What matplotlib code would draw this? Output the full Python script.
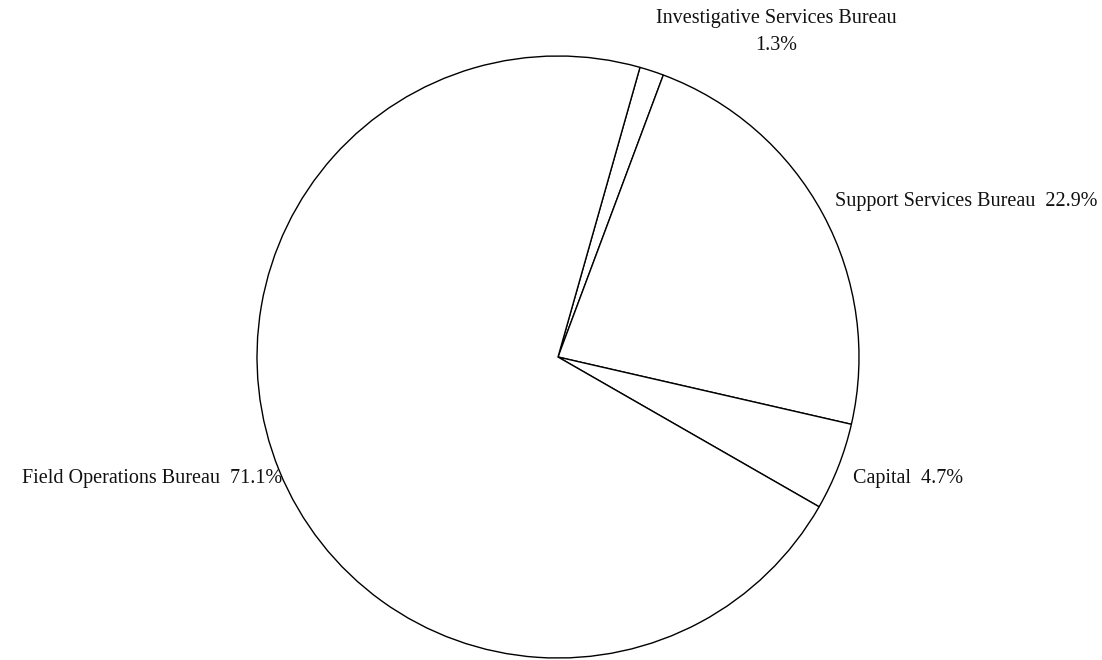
import matplotlib.pyplot as plt

labels = ['Investigative Services Bureau', 'Support Services Bureau', 'Capital', 'Field Operations Bureau']
shares = [1.3, 22.9, 4.7, 71.1]
pct_text = ['1.3%', '22.9%', '4.7%', '71.1%']

plt.rcParams['font.family'] = ['Liberation Serif', 'DejaVu Serif']

fig = plt.figure(figsize=(11.02, 6.6), dpi=100)
ax = fig.add_axes([0, 0, 1, 1])

wedges, _ = ax.pie(shares, startangle=74.2, counterclock=False, radius=1.0,
                   colors=['white'] * len(shares),
                   wedgeprops=dict(edgecolor='black', linewidth=1.0))

ax.set_xlim(-558 / 301, (1102 - 558) / 301)
ax.set_ylim(-(660 - 357) / 301, 357 / 301)
ax.set_aspect('equal')
ax.axis('off')

# label placement (data coords, alignment)
spots = [(0.724, 1.080, 'center'), (0.920, 0.515, 'left'),
         (0.980, -0.402, 'left'), (-0.917, -0.402, 'right')]
for i, (x, y, ha) in enumerate(spots):
    if i == 0:
        s = labels[i] + '\n' + pct_text[i]
    else:
        s = labels[i] + '  ' + pct_text[i]
    ax.text(x, y, s, ha=ha, va='center', fontsize=14.5, color='#111111',
            multialignment='center', linespacing=1.6)

fig.savefig('out.png', dpi=100)
